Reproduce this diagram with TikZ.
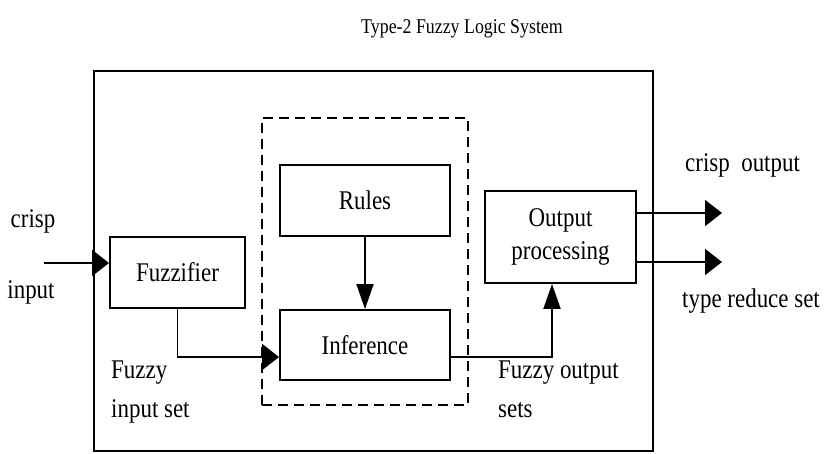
\documentclass[tikz,border=0pt]{standalone}
\usepackage{fontspec}
\setmainfont{Liberation Serif}[FakeStretch=0.85]
\usetikzlibrary{arrows.meta}
\begin{document}
\begin{tikzpicture}[x=1pt,y=-1pt,
  txt/.style={font=\fontsize{27}{33}\selectfont},
  blk/.style={draw, line width=1.9pt, inner sep=0pt, txt},
  lbl/.style={inner sep=0pt, txt},
  conn/.style={line width=1.9pt},
  harr/.style={conn, -{Triangle[length=17pt,width=26pt]}},
  varr/.style={conn, -{Triangle[length=25pt,width=17pt]}}]
\useasboundingbox (0,0) rectangle (830,453);
% frames
\node[draw, line width=2.2pt, minimum width=559pt, minimum height=380pt, inner sep=0pt] (sys) at (373.5,261) {};
\node[draw, line width=1.9pt, dash pattern=on 10pt off 6pt, minimum width=206pt, minimum height=287pt, inner sep=0pt] (core) at (365,261.5) {};
% blocks
\node[blk, minimum width=135pt, minimum height=71pt] (fuzz) at (177.5,272.5) {Fuzzifier};
\node[blk, minimum width=170pt, minimum height=71pt] (rules) at (365,200.5) {Rules};
\node[blk, minimum width=170pt, minimum height=70pt] (inf) at (365,345) {Inference};
\node[blk, minimum width=151pt, minimum height=92pt, align=center] (out) at (560.5,237) {Output\\processing};
% title
\node[lbl, font=\fontsize{21}{24}\selectfont, anchor=base] (title) at (462,33) {Type-2 Fuzzy Logic System};
% free ends
\coordinate (ci) at (44,263);
\coordinate (co1) at (722,213);
\coordinate (co2) at (722,262);
% connectors
\draw[harr] (ci) -- (ci -| fuzz.west);
\draw[harr] (fuzz.south) |- ([yshift=-12pt]inf.west);
\draw[varr] (rules.south) -- (inf.north);
\draw[varr] ([yshift=-12pt]inf.east) -| ([xshift=-8.5pt]out.south);
\draw[harr] ([yshift=24pt]out.east) -- (co1);
\draw[harr] ([yshift=-25pt]out.east) -- (co2);
% labels
\node[lbl, anchor=base] (l1) at (33,227) {crisp};
\node[lbl, anchor=base] (l2) at (31,298) {input};
\node[lbl, anchor=base west] (l3) at (111,378) {Fuzzy};
\node[lbl, anchor=base west] (l4) at (111,417) {input set};
\node[lbl, anchor=base west] (l5) at (498,378) {Fuzzy output};
\node[lbl, anchor=base west] (l6) at (498,417) {sets};
\node[lbl, anchor=base west] (l7) at (685,171) {crisp\ \ output};
\node[lbl, anchor=base west] (l8) at (682,307) {type reduce set};
\end{tikzpicture}
\end{document}
